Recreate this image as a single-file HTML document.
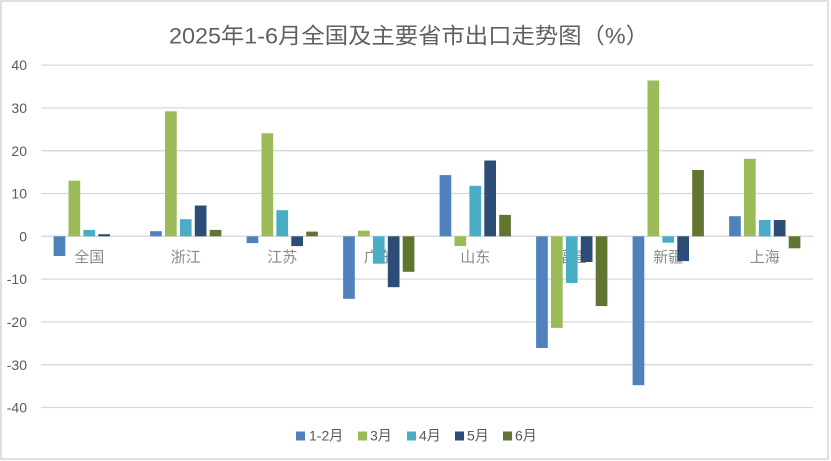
<!DOCTYPE html>
<html><head><meta charset="utf-8"><style>
html,body{margin:0;padding:0;background:#fff;}
svg{display:block;}
text{font-family:"Liberation Sans","Noto Sans CJK SC",sans-serif;}
</style></head><body>
<svg width="831" height="461" viewBox="0 0 831 461" xmlns="http://www.w3.org/2000/svg">
<rect x="0" y="0" width="831" height="461" fill="#fff"/>
<rect x="1" y="1" width="827" height="458" fill="none" stroke="#d9d9d9" stroke-width="1.6"/>
<text x="409" y="43.5" text-anchor="middle" font-size="22" fill="#606060" textLength="480" lengthAdjust="spacingAndGlyphs">2025年1-6月全国及主要省市出口走势图（%）</text>
<g stroke="#d9d9d9" stroke-width="1.3">
<line x1="41" x2="813" y1="65.1" y2="65.1"/>
<line x1="41" x2="813" y1="107.9" y2="107.9"/>
<line x1="41" x2="813" y1="150.7" y2="150.7"/>
<line x1="41" x2="813" y1="193.5" y2="193.5"/>
<line x1="41" x2="813" y1="236.3" y2="236.3"/>
<line x1="41" x2="813" y1="279.1" y2="279.1"/>
<line x1="41" x2="813" y1="321.9" y2="321.9"/>
<line x1="41" x2="813" y1="364.7" y2="364.7"/>
<line x1="41" x2="813" y1="407.5" y2="407.5"/>
</g>
<g font-size="14" fill="#595959" text-anchor="end">
<text x="27" y="70">40</text>
<text x="27" y="113">30</text>
<text x="27" y="156">20</text>
<text x="27" y="198.5">10</text>
<text x="27" y="241.3">0</text>
<text x="27" y="284">-10</text>
<text x="27" y="327">-20</text>
<text x="27" y="370">-30</text>
<text x="27" y="412.5">-40</text>
</g>
<g font-size="15" fill="#8a8a8a" text-anchor="middle" style="font-family:'Noto Serif CJK SC','Liberation Serif',serif">
<text x="89.25" y="262">全国</text>
<text x="185.75" y="262">浙江</text>
<text x="282.25" y="262">江苏</text>
<text x="378.75" y="262">广东</text>
<text x="475.25" y="262">山东</text>
<text x="571.75" y="262">福建</text>
<text x="668.25" y="262">新疆</text>
<text x="764.75" y="262">上海</text>
</g>
<g>
<rect x="53.6" y="236.3" width="11.7" height="19.7" fill="#4f81bd"/>
<rect x="68.5" y="180.7" width="11.7" height="55.6" fill="#9bbb59"/>
<rect x="83.4" y="229.9" width="11.7" height="6.4" fill="#4bacc6"/>
<rect x="98.3" y="234.2" width="11.7" height="2.1" fill="#2c4d75"/>
<rect x="150.1" y="231.2" width="11.7" height="5.1" fill="#4f81bd"/>
<rect x="165.0" y="111.3" width="11.7" height="125.0" fill="#9bbb59"/>
<rect x="179.9" y="219.2" width="11.7" height="17.1" fill="#4bacc6"/>
<rect x="194.8" y="205.5" width="11.7" height="30.8" fill="#2c4d75"/>
<rect x="209.7" y="229.9" width="11.7" height="6.4" fill="#5f7530"/>
<rect x="246.6" y="236.3" width="11.7" height="6.8" fill="#4f81bd"/>
<rect x="261.5" y="133.2" width="11.7" height="103.1" fill="#9bbb59"/>
<rect x="276.4" y="210.2" width="11.7" height="26.1" fill="#4bacc6"/>
<rect x="291.3" y="236.3" width="11.7" height="9.8" fill="#2c4d75"/>
<rect x="306.2" y="231.6" width="11.7" height="4.7" fill="#5f7530"/>
<rect x="343.1" y="236.3" width="11.7" height="62.5" fill="#4f81bd"/>
<rect x="358.0" y="230.7" width="11.7" height="5.6" fill="#9bbb59"/>
<rect x="372.9" y="236.3" width="11.7" height="27.4" fill="#4bacc6"/>
<rect x="387.8" y="236.3" width="11.7" height="50.9" fill="#2c4d75"/>
<rect x="402.7" y="236.3" width="11.7" height="35.5" fill="#5f7530"/>
<rect x="439.6" y="175.1" width="11.7" height="61.2" fill="#4f81bd"/>
<rect x="454.5" y="236.3" width="11.7" height="9.8" fill="#9bbb59"/>
<rect x="469.4" y="185.8" width="11.7" height="50.5" fill="#4bacc6"/>
<rect x="484.3" y="160.5" width="11.7" height="75.8" fill="#2c4d75"/>
<rect x="499.2" y="214.9" width="11.7" height="21.4" fill="#5f7530"/>
<rect x="536.1" y="236.3" width="11.7" height="111.7" fill="#4f81bd"/>
<rect x="551.0" y="236.3" width="11.7" height="91.6" fill="#9bbb59"/>
<rect x="565.9" y="236.3" width="11.7" height="46.7" fill="#4bacc6"/>
<rect x="580.8" y="236.3" width="11.7" height="25.7" fill="#2c4d75"/>
<rect x="595.7" y="236.3" width="11.7" height="69.8" fill="#5f7530"/>
<rect x="632.6" y="236.3" width="11.7" height="148.9" fill="#4f81bd"/>
<rect x="647.5" y="80.5" width="11.7" height="155.8" fill="#9bbb59"/>
<rect x="662.4" y="236.3" width="11.7" height="6.4" fill="#4bacc6"/>
<rect x="677.3" y="236.3" width="11.7" height="24.8" fill="#2c4d75"/>
<rect x="692.2" y="170.0" width="11.7" height="66.3" fill="#5f7530"/>
<rect x="729.1" y="216.2" width="11.7" height="20.1" fill="#4f81bd"/>
<rect x="744.0" y="158.8" width="11.7" height="77.5" fill="#9bbb59"/>
<rect x="758.9" y="220.0" width="11.7" height="16.3" fill="#4bacc6"/>
<rect x="773.8" y="220.0" width="11.7" height="16.3" fill="#2c4d75"/>
<rect x="788.7" y="236.3" width="11.7" height="12.0" fill="#5f7530"/>
</g>
<g font-size="14" fill="#595959">
<rect x="296" y="431.5" width="9" height="9" fill="#4f81bd"/>
<text x="309" y="440.5">1-2月</text>
<rect x="358" y="431.5" width="9" height="9" fill="#9bbb59"/>
<text x="370" y="440.5">3月</text>
<rect x="407" y="431.5" width="9" height="9" fill="#4bacc6"/>
<text x="419" y="440.5">4月</text>
<rect x="455" y="431.5" width="9" height="9" fill="#2c4d75"/>
<text x="467" y="440.5">5月</text>
<rect x="503" y="431.5" width="9" height="9" fill="#5f7530"/>
<text x="515" y="440.5">6月</text>
</g>
</svg>
</body></html>
